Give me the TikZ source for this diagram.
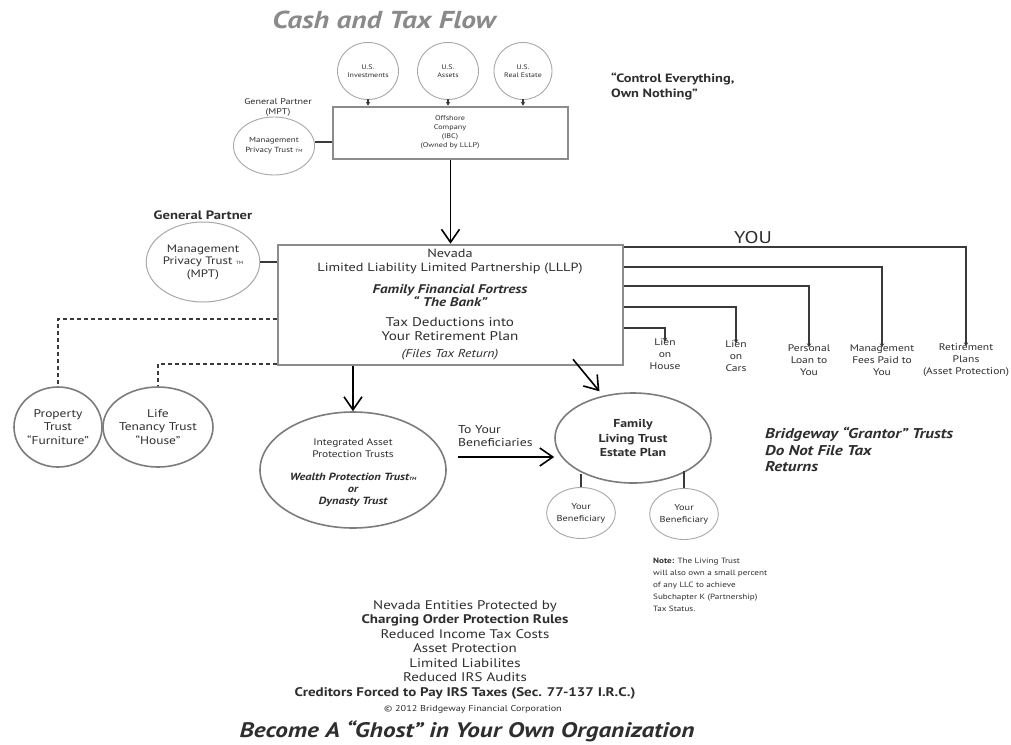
\documentclass[tikz,border=0pt]{standalone}
\usepackage{fontspec}
\setmainfont[FakeStretch=1.2]{PT Sans}
\usetikzlibrary{arrows.meta,shapes.geometric}
\newcommand\fsz[2]{\fontsize{#1}{#2}\selectfont}
\newcommand\tmark{{\fsz{4.5}{4.5}TM}}
\definecolor{titlegray}{HTML}{8A8A8A}
\definecolor{boxgray}{HTML}{8C8C8C}
\definecolor{ringgray}{HTML}{7C7C7C}
\definecolor{lightring}{HTML}{A8A8A8}
\definecolor{ink}{HTML}{2E2E2E}
\definecolor{linkgray}{HTML}{3A3A3A}
\tikzset{
  gbox/.style={draw=boxgray, line width=2.6pt, rectangle, inner sep=0pt},
  ring/.style={draw=ringgray, line width=1.6pt, ellipse, inner sep=0pt, align=center, text=ink},
  thinring/.style={draw=lightring, line width=0.9pt, ellipse, inner sep=0pt, align=center, text=ink},
  txt/.style={align=center, text=ink, inner sep=0pt},
  link/.style={draw=linkgray, line width=1.3pt},
  smallarrow/.style={link, -{Stealth[length=4pt,width=4.5pt]}},
  bigarrow/.style={draw=black, line width=1.6pt, -{Straight Barb[length=13pt,width=18pt,line width=1.6pt]}},
  dashlink/.style={draw=linkgray, line width=1.2pt, dash pattern=on 4pt off 3pt},
}
\begin{document}
\begin{tikzpicture}[x=1pt,y=-1pt]
\useasboundingbox[fill=white] (0,0) rectangle (1011,744);

% ---------- heading ----------
\node[txt, text=titlegray, font=\fsz{24.5}{28}\bfseries\itshape] (title) at (384,20) {Cash and Tax Flow};
\node[txt, anchor=west, align=left, font=\fsz{12}{15}\bfseries] (motto) at (611,86) {“Control Everything,\\Own Nothing”};

% ---------- offshore level ----------
\node[thinring, minimum width=61, minimum height=57, font=\fsz{6.6}{8}] (inv) at (368,71) {U.S.\\Investments};
\node[thinring, minimum width=61, minimum height=57, font=\fsz{6.6}{8}] (ast) at (448,71) {U.S.\\Assets};
\node[thinring, minimum width=58, minimum height=57, font=\fsz{6.6}{8}] (re) at (523,71) {U.S.\\Real Estate};

\node[gbox, minimum width=235, minimum height=52] (off) at (450.5,133) {};
\node[txt, font=\fsz{6.8}{9}] (offtxt) at (450,132.5) {Offshore\\Company\\(IBC)\\(Owned by LLLP)};

\draw[smallarrow] (inv.south |- 0,99) -- (inv.south |- off.north);
\draw[smallarrow] (ast.south |- 0,99) -- (ast.south |- off.north);
\draw[smallarrow] (re.south |- 0,99) -- (re.south |- off.north);

\node[txt, font=\fsz{8.4}{10}] (gp1) at (278,107) {General Partner\\(MPT)};
\node[thinring, minimum width=60, minimum height=58, font=\fsz{7.4}{10}] (mpt1) at (274,146) {Management\\Privacy Trust \tmark};
\draw[link] (mpt1.east |- 0,142) -- (off.west |- 0,142);

% ---------- partnership ----------
\node[gbox, minimum width=345, minimum height=120] (lllp) at (450.5,305) {};
\draw[bigarrow] (off.south) -- (lllp.north);

\node[txt, font=\fsz{11.9}{14}] (lllp1) at (450,262) {Nevada\\Limited Liability Limited Partnership (LLLP)};
\node[txt, font=\fsz{12.6}{13.5}\bfseries\itshape] (lllp2) at (450,295.5) {Family Financial Fortress\\“ The Bank”};
\node[txt, font=\fsz{12.6}{14}] (lllp3) at (450,329) {Tax Deductions into\\Your Retirement Plan};
\node[txt, font=\fsz{11.5}{12}\itshape] (lllp4) at (450,355) {(Files Tax Return)};

\node[txt, font=\fsz{12.2}{12}\bfseries] (gp2) at (203,215) {General Partner};
\node[ring, draw=lightring, line width=1pt, minimum width=91, minimum height=80, font=\fsz{10.8}{12.5}] (mpt2) at (203,262) {Management\\Privacy Trust \tmark\\(MPT)};
\draw[link] (mpt2.east) -- (lllp.west |- mpt2.east);

% ---------- distributions to you ----------
\node[txt, font=\fsz{17}{18}] (you) at (753,238) {YOU};
\node[txt, font=\fsz{9.6}{12}] (lienh) at (665,354.5) {Lien\\on\\House};
\node[txt, font=\fsz{9.6}{12}] (lienc) at (736,356) {Lien\\on\\Cars};
\node[txt, font=\fsz{9.6}{12}] (loan) at (809,360) {Personal\\Loan to\\You};
\node[txt, font=\fsz{9.6}{12}] (fees) at (882,360) {Management\\Fees Paid to\\You};
\node[txt, font=\fsz{9.6}{12}] (ret) at (966,360) {Retirement\\Plans\\(Asset Protection)};

\draw[smallarrow] (lllp.east |- 0,247) -| ([yshift=-3]ret.north);
\draw[smallarrow] (lllp.east |- 0,267) -| ([yshift=-3]fees.north);
\draw[smallarrow] (lllp.east |- 0,286) -| ([yshift=-3]loan.north);
\draw[smallarrow] (lllp.east |- 0,307) -| ([yshift=-3]lienc.north);
\draw[smallarrow] (lllp.east |- 0,328) -| ([yshift=-3]lienh.north);

% ---------- trusts held by the partnership ----------
\node[ring, minimum width=88, minimum height=80, font=\fsz{11.2}{13.5}] (prop) at (58,427) {Property\\Trust\\“Furniture”};
\node[ring, minimum width=94, minimum height=80, font=\fsz{11.2}{13.5}] (life) at (158,427) {Life\\Tenancy Trust\\“House”};
\draw[dashlink] (lllp.west |- 0,319) -| (prop.north);
\draw[dashlink] (lllp.west |- 0,364) -| (life.north);

\node[ring, minimum width=186, minimum height=116] (iapt) at (353,470) {};
\node[txt, font=\fsz{9.5}{12}] (iapt1) at (353,448) {Integrated Asset\\Protection Trusts};
\node[txt, font=\fsz{10.4}{12}\bfseries\itshape] (iapt2) at (353,489.5) {Wealth Protection Trust\tmark\\or\\Dynasty Trust};
\draw[bigarrow] (lllp.south -| iapt.north) -- (iapt.north);

\node[ring, minimum width=156, minimum height=90, font=\fsz{11.5}{14.5}\bfseries] (flt) at (633,438) {Family\\Living Trust\\Estate Plan};
\draw[bigarrow] ([yshift=7]lllp.south -| 573,0) -- ([shift={(-1,-5)}]flt.128);

\node[txt, anchor=west, align=left, font=\fsz{11.4}{13.5}] (tyb) at (458,436) {To Your\\Beneficiaries};
\draw[bigarrow, line width=1.8pt] (tyb.south west |- 0,457) -- (flt.west |- 0,457);

\node[thinring, minimum width=55, minimum height=51, font=\fsz{8.6}{12}] (ben1) at (581,513) {Your\\Beneficiary};
\node[thinring, minimum width=56, minimum height=51, font=\fsz{8.6}{12}] (ben2) at (684,514) {Your\\Beneficiary};
\draw[link] (ben1.north |- 0,474) -- (ben1.north);
\draw[link] (ben2.north |- 0,471) -- (ben2.north);

\node[txt, anchor=north west, align=left, font=\fsz{14.2}{16.5}\bfseries\itshape] (grantor) at (765,427) {Bridgeway “Grantor” Trusts\\Do Not File Tax\\Returns};

\node[txt, anchor=north west, align=left, font=\fsz{7.6}{12}] (note) at (653,558) {\textbf{Note:} The Living Trust\\will also own a small percent\\of any LLC to achieve\\Subchapter K (Partnership)\\Tax Status.};

% ---------- footer ----------
\node[txt, font=\fsz{12.5}{14.5}] (benefits) at (465,649.5) {Nevada Entities Protected by\\\textbf{Charging Order Protection Rules}\\Reduced Income Tax Costs\\Asset Protection\\Limited Liabilites\\Reduced IRS Audits\\\textbf{Creditors Forced to Pay IRS Taxes (Sec. 77-137 I.R.C.)}};
\node[txt, font=\fsz{8.5}{8}] (copy) at (473,709) {© 2012 Bridgeway Financial Corporation};
\node[txt, font=\fsz{21}{22}\bfseries\itshape] (ghost) at (467,731) {Become A “Ghost” in Your Own Organization};
\end{tikzpicture}
\end{document}
